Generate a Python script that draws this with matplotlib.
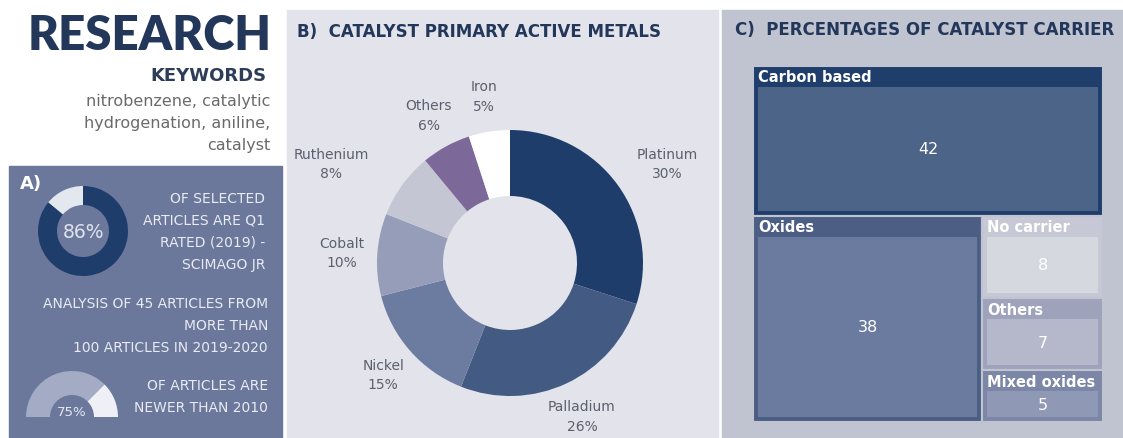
import matplotlib
matplotlib.use("Agg")
import matplotlib.pyplot as plt
from matplotlib.patches import Rectangle

plt.rcParams['font.family'] = ['DejaVu Sans']

# ---- data ----
metals = ["Platinum", "Palladium", "Nickel", "Cobalt", "Ruthenium", "Others", "Iron"]
metal_pct = [30, 26, 15, 10, 8, 6, 5]
metal_colors = ["#1f3d6b", "#435a83", "#6c7ba0", "#959db9", "#c4c6d4", "#7d6999", "#ffffff"]

carriers = ["Carbon based", "Oxides", "No carrier", "Others", "Mixed oxides"]
carrier_vals = [42, 38, 8, 7, 5]
carrier_head = ["#1f3e6b", "#4d5e85", "#c6c9d5", "#9ea3bb", "#7c86a6"]
carrier_body = ["#4b6488", "#6b7b9f", "#d6d8e0", "#b4b8ca", "#8f98b4"]

q1_pct = 86
newer_pct = 75

keywords = ["nitrobenzene, catalytic", "hydrogenation, aniline,", "catalyst"]
q1_text = ["OF SELECTED", "ARTICLES ARE Q1", "RATED (2019) -", "SCIMAGO JR"]
analysis_text = ["ANALYSIS OF 45 ARTICLES FROM", "MORE THAN", "100 ARTICLES IN 2019-2020"]
newer_text = ["OF ARTICLES ARE", "NEWER THAN 2010"]

W, H = 1123, 439
NAVY = "#22375a"
fig = plt.figure(figsize=(W / 100, H / 100), dpi=100)
fig.patch.set_facecolor("white")


def px_axes(x, y, w, h):
    return fig.add_axes([x / W, 1 - (y + h) / H, w / W, h / H])


# base layer in pixel coordinates
base = px_axes(0, 0, W, H)
base.set_xlim(0, W)
base.set_ylim(H, 0)
base.axis("off")

# panel backgrounds
base.add_patch(Rectangle((9, 167), 273, 272, color="#6b789b"))
base.add_patch(Rectangle((287, 11), 431, 428, color="#e3e4eb"))
base.add_patch(Rectangle((722, 11), 401, 428, color="#c0c3d0"))

# header block
base.text(150, 36, "RESEARCH", ha="center", va="center", fontsize=34,
          fontweight="heavy", color=NAVY, family=["Lato", "DejaVu Sans"])
base.text(266, 76, "KEYWORDS", ha="right", va="center", fontsize=13,
          fontweight="bold", color="#2d3d58")
for i, line in enumerate(keywords):
    base.text(270, 102 + i * 22, line, ha="right", va="center", fontsize=11.5,
              color="#6a6a6a")

# panel A texts
light = "#e9ebf2"
base.text(20, 184, "A)", ha="left", va="center", fontsize=13,
          fontweight="bold", color="white")
for i, line in enumerate(q1_text):
    base.text(265, 199 + i * 22, line, ha="right", va="center", fontsize=10,
              color=light)
for i, line in enumerate(analysis_text):
    base.text(268, 304 + i * 22, line, ha="right", va="center", fontsize=10,
              color=light)
for i, line in enumerate(newer_text):
    base.text(268, 386 + i * 22, line, ha="right", va="center", fontsize=10,
              color=light)

# panel titles
base.text(297, 32, "B)  CATALYST PRIMARY ACTIVE METALS", ha="left", va="center",
          fontsize=12, fontweight="bold", color=NAVY)
base.text(735, 30, "C)  PERCENTAGES OF CATALYST CARRIER", ha="left", va="center",
          fontsize=12, fontweight="bold", color=NAVY)

# ---- A: 86% donut ----
ax_q1 = px_axes(83 - 50, 232 - 50, 100, 100)
ax_q1.pie([q1_pct, 100 - q1_pct], colors=["#1f3d6b", "#e2e8ee"], startangle=90,
          counterclock=False, radius=0.9, wedgeprops=dict(width=0.38))
ax_q1.set_xlim(-1, 1)
ax_q1.set_ylim(-1, 1)
ax_q1.text(0, 0, f"{q1_pct}%", ha="center", va="center", fontsize=13.5,
           color="#dfe3ec")

# ---- A: 75% half gauge ----
ax_new = px_axes(72 - 50, 418 - 50, 100, 100)
ax_new.pie([newer_pct, 100 - newer_pct, 100], colors=["#a3abc5", "#eef0f5", "none"],
           startangle=180, counterclock=False, radius=0.92,
           wedgeprops=dict(width=0.48))
ax_new.set_xlim(-1, 1)
ax_new.set_ylim(-1, 1)
ax_new.text(0, 0.1, f"{newer_pct}%", ha="center", va="center", fontsize=9.5,
            color="#e6e9f0")

# ---- B: donut of active metals ----
ax_b = px_axes(510 - 170, 264 - 170, 340, 340)
labels = [f"{m}\n{p}%" for m, p in zip(metals, metal_pct)]
_, texts = ax_b.pie(metal_pct, labels=labels, colors=metal_colors, startangle=90,
                    counterclock=False, radius=133 / 170, labeldistance=1.27,
                    wedgeprops=dict(width=66 / 170, linewidth=0),
                    textprops=dict(fontsize=10, color="#5b606e", ha="center",
                                   va="center", linespacing=1.5))
# push the two crowded diagonal labels a bit further out
nudge = {"Platinum": 0.12, "Ruthenium": -0.25}
for t, m in zip(texts, metals):
    if m in nudge:
        x, y = t.get_position()
        t.set_position((x + nudge[m], y))
ax_b.set_xlim(-1, 1)
ax_b.set_ylim(-1, 1)

# ---- C: treemap (slice-and-dice from values) ----
tx, ty, tw, th = 753, 67, 350, 356
total = sum(carrier_vals)
cells = []
h0 = th * carrier_vals[0] / total
cells.append((tx, ty, tw, h0))
rest = carrier_vals[1:]
w1 = tw * rest[0] / sum(rest)
cells.append((tx, ty + h0, w1, th - h0))
col = rest[1:]
cy = ty + h0
for v in col:
    ch = (th - h0) * v / sum(col)
    cells.append((tx + w1, cy, tw - w1, ch))
    cy += ch

for (x, y, w, h), name, val, hc, bc in zip(cells, carriers, carrier_vals,
                                           carrier_head, carrier_body):
    base.add_patch(Rectangle((x, y), w, h, facecolor=hc, edgecolor="#c0c3d0",
                             linewidth=1.5))
    base.add_patch(Rectangle((x + 5, y + 21), w - 10, h - 26, facecolor=bc,
                             edgecolor="none"))
    base.text(x + 5, y + 11, name, ha="left", va="center", fontsize=10.5,
              fontweight="bold", color="white")
    base.text(x + w / 2, y + 21 + (h - 26) / 2, str(val), ha="center",
              va="center", fontsize=11.5, color="white")

fig.savefig("out.png", dpi=100)
